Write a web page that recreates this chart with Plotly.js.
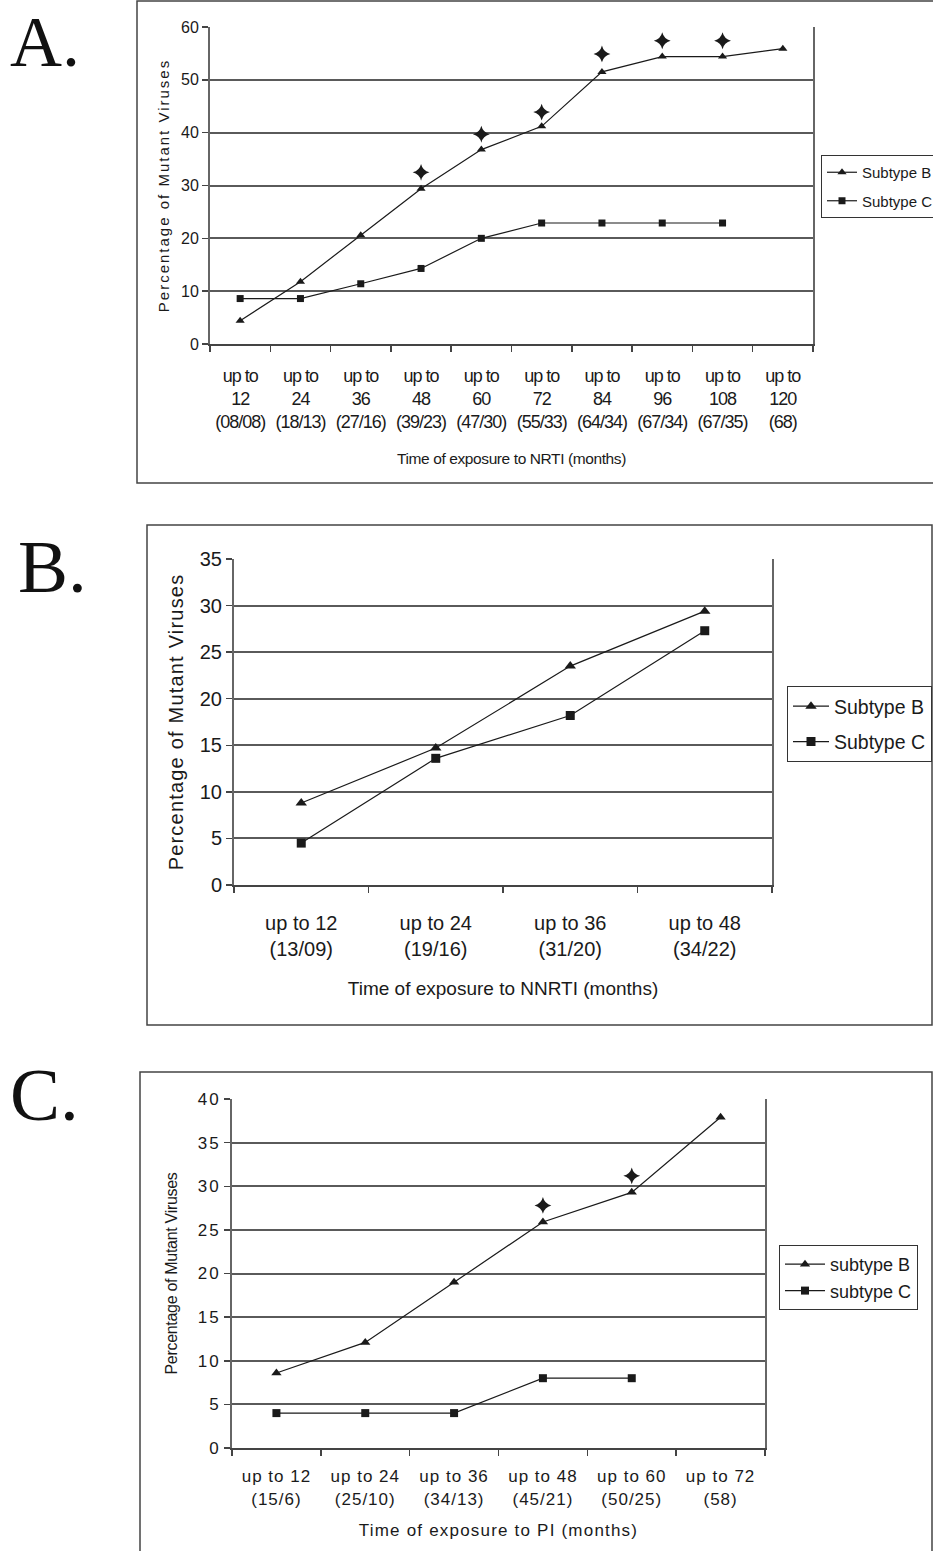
<!DOCTYPE html>
<html><head><meta charset="utf-8">
<script src="https://cdn.plot.ly/plotly-3.0.1.min.js"></script>
<style>
html,body{margin:0;padding:0;background:#fff;overflow:hidden;width:933px;height:1551px;}
#chart{width:933px;height:1551px;overflow:hidden;position:relative;}
.xtick text{letter-spacing:-1px;}
.xtitle{letter-spacing:-0.4px;}
.ytitle{letter-spacing:2px;}
.y2title{letter-spacing:1.2px;}
.x3tick text{letter-spacing:1px;}
.y3tick text{letter-spacing:2px;}
.x3title{letter-spacing:1.2px;}
.y3title{letter-spacing:-0.3px;}
</style></head><body><div id="chart"></div>
<script>
// ---------- Panel A: NRTI ----------
const monthsA = [12,24,36,48,60,72,84,96,108,120];
const countsA = ["08/08","18/13","27/16","39/23","47/30","55/33","64/34","67/34","67/35","68"];
const subtypeB_A = [4.4,11.8,20.6,29.4,36.8,41.2,51.5,54.4,54.4,55.9];
const subtypeC_A = [8.6,8.6,11.4,14.3,20.0,22.9,22.9,22.9,22.9,null];
const signifA = [null,null,null,32.5,39.7,43.9,54.9,57.4,57.4,null];
// ---------- Panel B: NNRTI ----------
const monthsB = [12,24,36,48];
const countsB = ["13/09","19/16","31/20","34/22"];
const subtypeB_B = [8.8,14.7,23.5,29.4];
const subtypeC_B = [4.5,13.6,18.2,27.3];
// ---------- Panel C: PI ----------
const monthsC = [12,24,36,48,60,72];
const countsC = ["15/6","25/10","34/13","45/21","50/25","58"];
const subtypeB_C = [8.6,12.1,19.0,25.9,29.3,37.9];
const subtypeC_C = [4,4,4,8,8,null];
const signifC = [null,null,null,27.8,31.2,null];

const legendNamesAB = ["Subtype B","Subtype C"];
const legendNamesC = ["subtype B","subtype C"];
const panelLetters = ["A.","B.","C."];
const yTitle = "Percentage of Mutant Viruses";
const xTitles = ["Time of exposure to NRTI (months)","Time of exposure to NNRTI (months)","Time of exposure to PI (months)"];

const catsA = monthsA.map((m,i)=>`up to<br>${m}<br>(${countsA[i]})`);
const catsB = monthsB.map((m,i)=>`up to ${m}<br>(${countsB[i]})`);
const catsC = monthsC.map((m,i)=>`up to ${m}<br>(${countsC[i]})`);

const W = 933, H = 1551;
const FF = "Liberation Sans, Arial, sans-serif";
const SERIF = "Liberation Serif, Times New Roman, serif";
const INK = "#1a1a1a";
const px = v => v / W;
const py = v => 1 - v / H;

function line(x, y, name, sym, size, xa, ya, leg, grp){
  return {x, y, name, type:'scatter', mode:'lines+markers', xaxis:xa, yaxis:ya,
    legend:leg, legendgroup:grp,
    line:{color:INK, width:1.2}, marker:{symbol:sym, size:size, color:INK}};
}
function star(x, y, xa, ya){
  return {x, y, type:'scatter', mode:'markers', xaxis:xa, yaxis:ya, showlegend:false,
    marker:{symbol:'star-diamond', size:12, color:INK}};
}

const traces = [
  line(catsA, subtypeB_A, legendNamesAB[0], 'triangle-up', 8, 'x', 'y', 'legend', 'b'),
  line(catsA, subtypeC_A, legendNamesAB[1], 'square', 7, 'x', 'y', 'legend', 'c'),
  star(catsA, signifA, 'x', 'y'),
  line(catsB, subtypeB_B, legendNamesAB[0], 'triangle-up', 10, 'x2', 'y2', 'legend2', 'b2'),
  line(catsB, subtypeC_B, legendNamesAB[1], 'square', 9, 'x2', 'y2', 'legend2', 'c2'),
  line(catsC, subtypeB_C, legendNamesC[0], 'triangle-up', 9, 'x3', 'y3', 'legend3', 'b3'),
  line(catsC, subtypeC_C, legendNamesC[1], 'square', 8, 'x3', 'y3', 'legend3', 'c3'),
  star(catsC, signifC, 'x3', 'y3')
];

function xax(domain, anchor, cats, fs, standoff, title, tfs, tstand){
  return {domain, anchor, type:'category', categoryorder:'array', categoryarray:cats,
    range:[-0.5, cats.length-0.5], showgrid:false, zeroline:false, automargin:false,
    showline:true, linecolor:'#444', linewidth:2,
    ticks:'outside', tickson:'boundaries', ticklen:6, tickcolor:'#444', tickwidth:1.5,
    tickfont:{family:FF, size:fs, color:INK}, tickangle:0, ticklabelstandoff:standoff,
    title:{text:title, font:{family:FF, size:tfs, color:INK}, standoff:tstand}};
}
function yax(domain, anchor, max, dt, fs, tfs, tstand){
  const t = {text:yTitle, font:{family:FF, size:tfs, color:INK}};
  if (tstand !== undefined) t.standoff = tstand;
  return {domain, anchor, range:[0,max], dtick:dt, tick0:0, showgrid:true, automargin:false,
    gridcolor:'#5a5a5a', gridwidth:2, zeroline:false,
    showline:true, mirror:true, linecolor:'#666', linewidth:2,
    ticks:'outside', ticklen:6, tickcolor:'#444', tickwidth:1.5,
    tickfont:{family:FF, size:fs, color:INK}, title:t};
}

const legendBase = (x, y, fs, gap, iw) => ({x, y, xref:'container', yref:'container',
  xanchor:'left', yanchor:'top',
  bordercolor:'#333', borderwidth:1, bgcolor:'#fff', font:{family:FF, size:fs, color:INK},
  traceorder:'grouped', tracegroupgap:gap, itemwidth:iw});

const layout = {
  width:W, height:H, margin:{l:0,r:0,t:0,b:0,autoexpand:false},
  paper_bgcolor:'#fff', plot_bgcolor:'#fff', showlegend:true, hovermode:false,
  xaxis: xax([px(210), px(813)], 'y', catsA, 18, 14, xTitles[0], 15.5, 22),
  yaxis: yax([py(344), py(27)], 'x', 60, 10, 16, 15),
  xaxis2: xax([px(234), px(772)], 'y2', catsB, 20, 19, xTitles[1], 19, 23),
  yaxis2: yax([py(885), py(559)], 'x2', 35, 5, 20, 20),
  xaxis3: xax([px(232), px(765)], 'y3', catsC, 17, 12, xTitles[2], 17, 17),
  yaxis3: yax([py(1448), py(1099)], 'x3', 40, 5, 17, 16, 16),
  legend: legendBase(px(821), py(155), 15, 6, 30),
  legend2: legendBase(px(787), py(686), 19.5, 7, 36),
  legend3: legendBase(px(779), py(1245), 18, 0, 40),
  shapes: [
    {type:'rect', xref:'paper', yref:'paper', x0:px(137), x1:px(945), y0:py(483), y1:py(1), line:{color:'#444', width:1.5}},
    {type:'rect', xref:'paper', yref:'paper', x0:px(147), x1:px(932), y0:py(1025), y1:py(525), line:{color:'#444', width:1.5}},
    {type:'rect', xref:'paper', yref:'paper', x0:px(140), x1:px(932), y0:py(1570), y1:py(1072), line:{color:'#444', width:1.5}}
  ],
  annotations: [
    {text:panelLetters[0], xref:'paper', yref:'paper', x:px(8), y:py(0), xanchor:'left', yanchor:'top', showarrow:false, font:{family:SERIF, size:72, color:'#111'}},
    {text:panelLetters[1], xref:'paper', yref:'paper', x:px(16), y:py(566), xanchor:'left', yanchor:'middle', showarrow:false, font:{family:SERIF, size:75, color:'#111'}},
    {text:panelLetters[2], xref:'paper', yref:'paper', x:px(8), y:py(1094), xanchor:'left', yanchor:'middle', showarrow:false, font:{family:SERIF, size:75, color:'#111'}}
  ]
};

Plotly.newPlot('chart', traces, layout, {staticPlot:true, displayModeBar:false});
</script></body></html>
